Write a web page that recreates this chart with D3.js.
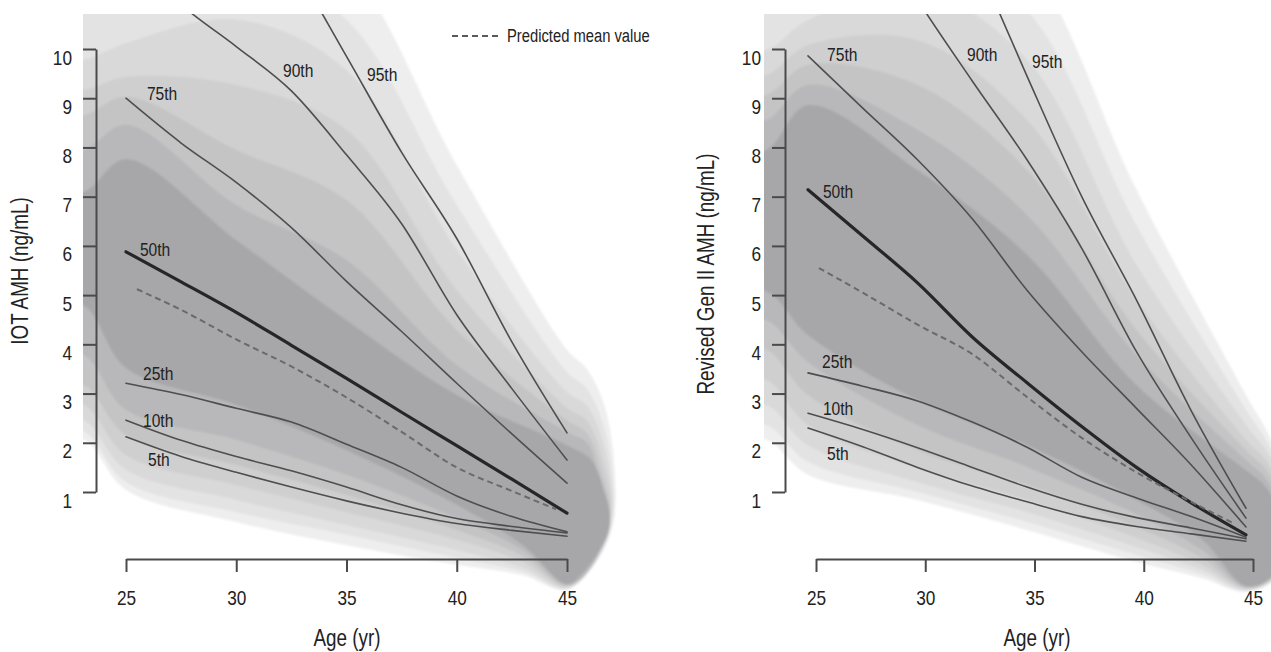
<!DOCTYPE html>
<html><head><meta charset="utf-8">
<script src="https://cdn.jsdelivr.net/npm/d3@7"></script>
<style>
html,body{margin:0;padding:0;background:#fff;}
svg{display:block;}
</style></head><body>
<svg id="chart" width="1271" height="652"></svg>
<script>
// ---------- data ----------
const ages = [25, 27.5, 30, 32.5, 35, 37.5, 40, 42.5, 45];
const meanAges = [25.5, 27.5, 30, 32.5, 35, 37.5, 40, 42.5, 44.5];
const xTicks = [25, 30, 35, 40, 45];
const yTicks = [1, 2, 3, 4, 5, 6, 7, 8, 9, 10];
const percentileNames = ["95th", "90th", "75th", "50th", "25th", "10th", "5th"];

// IOT AMH percentiles (ng/mL)
const iotP95 = [16.5, 15.0, 13.6, 11.8, 9.85, 7.9, 6.15, 4.05, 2.2];
const iotP90 = [12.0, 10.9, 10.05, 9.15, 7.85, 6.45, 4.6, 3.1, 1.65];
const iotP75 = [9.0, 8.09, 7.29, 6.37, 5.28, 4.26, 3.21, 2.18, 1.18];
const iotP50 = [5.88, 5.27, 4.65, 3.98, 3.31, 2.62, 1.94, 1.26, 0.57];
const iotP25 = [3.21, 2.98, 2.7, 2.42, 1.97, 1.5, 0.92, 0.5, 0.19];
const iotP10 = [2.46, 2.05, 1.72, 1.43, 1.1, 0.74, 0.46, 0.3, 0.17];
const iotP5  = [2.12, 1.72, 1.4, 1.1, 0.82, 0.57, 0.36, 0.22, 0.10];
const iotMean = [5.12, 4.7, 4.1, 3.55, 2.92, 2.22, 1.5, 1.02, 0.65];
const iotLabelAge = [35.93, 32.12, 25.95, 25.63, 25.77, 25.77, 26.0];
const iotLabelVal = [9.35, 9.43, 8.96, 5.79, 3.28, 2.32, 1.53];

// Revised Gen II AMH percentiles (ng/mL)
const genP95 = [20.0, 17.0, 14.5, 12.0, 9.45, 7.0, 4.9, 2.65, 0.67];
const genP90 = [14.8, 12.8, 11.0, 9.35, 7.75, 5.95, 3.85, 2.1, 0.47];
const genP75 = [9.86, 8.8, 7.75, 6.55, 5.1, 3.85, 2.7, 1.55, 0.29];
const genP50 = [7.14, 6.2, 5.25, 4.15, 3.22, 2.33, 1.5, 0.78, 0.13];
const genP25 = [3.42, 3.15, 2.85, 2.42, 1.91, 1.3, 0.88, 0.5, 0.08];
const genP10 = [2.6, 2.27, 1.9, 1.5, 1.1, 0.75, 0.48, 0.27, 0.05];
const genP5  = [2.3, 1.92, 1.5, 1.12, 0.8, 0.5, 0.3, 0.15, 0.0];
const genMean = [5.55, 5.05, 4.4, 3.8, 2.93, 2.1, 1.4, 0.8, 0.35];
const genLabelAge = [35.23, 32.26, 25.87, 25.68, 25.64, 25.68, 25.87];
const genLabelVal = [9.61, 9.75, 9.75, 6.97, 3.52, 2.56, 1.65];

// shaded density bands (outer -> inner)
const bandTopAges = [23.1, 25, 30, 35, 40, 45];
const bandBottomAges = [23.1, 25, 30, 35, 40, 43, 45];
const bandShades = ["#eeeeee", "#e3e3e3", "#d9d9da", "#cfcfd0", "#c4c4c5", "#b8b8ba", "#a7a7a9"];

const iotBandTop = [
  [13.4, 13.4, 13.0, 11.7, 7.64, 3.89],
  [11.0, 11.6, 11.8, 10.6, 6.83, 3.44],
  [9.78, 10.12, 10.6, 9.57, 5.92, 3.03],
  [9.17, 9.43, 9.27, 8.36, 5.10, 2.71],
  [8.66, 9.03, 7.95, 6.93, 4.29, 2.46],
  [7.95, 8.46, 6.83, 5.71, 3.58, 2.22],
  [7.10, 7.76, 6.12, 4.49, 2.97, 1.95]
];
const iotBandBottom = [
  [2.06, 1.04, 0.39, -0.08, -0.48, -0.69, -0.99],
  [2.22, 1.20, 0.59, 0.13, -0.34, -0.62, -0.97],
  [2.46, 1.45, 0.84, 0.33, -0.18, -0.54, -0.95],
  [2.77, 1.75, 1.14, 0.59, 0.03, -0.42, -0.93],
  [3.17, 2.16, 1.55, 0.94, 0.23, -0.30, -0.91],
  [3.78, 2.67, 2.06, 1.35, 0.47, -0.18, -0.89],
  [4.78, 3.52, 2.77, 1.85, 0.74, -0.08, -0.87]
];
const iotBandCap = [
  [[45.9, 3.5], [46.8, 2.6], [47.15, 0.5], [46.5, -0.3]],
  [[45.9, 3.1], [46.75, 2.2], [47.1, 0.5], [46.45, -0.3]],
  [[45.9, 2.75], [46.7, 1.9], [47.05, 0.55], [46.4, -0.35]],
  [[45.9, 2.45], [46.65, 1.6], [47.0, 0.6], [46.3, -0.4]],
  [[45.9, 2.2], [46.6, 1.35], [46.95, 0.6], [46.2, -0.45]],
  [[45.9, 2.0], [46.5, 1.2], [46.9, 0.6], [46.1, -0.5]],
  [[46.1, 1.65], [46.7, 1.0], [46.95, 0.5], [46.8, 0.08], [45.7, -0.65]]
];

const genBandTop = [
  [14.04, 14.04, 13.43, 11.81, 7.14, 2.97],
  [10.79, 11.40, 12.22, 10.79, 6.42, 2.67],
  [9.98, 10.59, 11.2, 9.78, 5.61, 2.36],
  [9.47, 10.08, 10.18, 8.56, 4.90, 2.06],
  [9.07, 9.68, 9.27, 7.54, 4.29, 1.85],
  [8.56, 9.27, 8.36, 6.63, 3.78, 1.65],
  [7.95, 8.86, 7.54, 5.82, 3.17, 1.44]
];
const genBandBottom = [
  [2.06, 1.35, 0.84, 0.23, -0.42, -0.75, -1.03],
  [2.36, 1.61, 1.0, 0.39, -0.28, -0.67, -1.01],
  [2.77, 1.95, 1.2, 0.59, -0.12, -0.58, -0.99],
  [3.28, 2.36, 1.49, 0.84, 0.07, -0.48, -0.97],
  [3.89, 2.97, 1.85, 1.14, 0.29, -0.34, -0.95],
  [4.49, 3.64, 2.36, 1.51, 0.55, -0.18, -0.93],
  [5.08, 4.19, 2.87, 1.95, 0.84, 0.03, -0.91]
];
const genBandCap = [
  [[46.2, 2.0], [47.0, 0.5], [46.5, -0.7]],
  [[46.15, 1.85], [46.95, 0.45], [46.45, -0.7]],
  [[46.1, 1.7], [46.9, 0.4], [46.4, -0.7]],
  [[46.05, 1.55], [46.85, 0.35], [46.35, -0.7]],
  [[46.0, 1.4], [46.8, 0.3], [46.3, -0.7]],
  [[45.95, 1.25], [46.75, 0.3], [46.25, -0.7]],
  [[45.9, 1.1], [46.7, 0.3], [46.2, -0.7]]
];

// ---------- drawing ----------
const FONT = '"Liberation Sans", Arial, Helvetica, sans-serif';
const NARROW = 0.82;   // condensed face
const svg = d3.select("#chart");
const defs = svg.append("defs");
defs.append("filter").attr("id", "soft")
  .attr("x", "-5%").attr("y", "-5%").attr("width", "110%").attr("height", "110%")
  .append("feGaussianBlur").attr("stdDeviation", 1.3);

const yScale = d3.scaleLinear().domain([1, 10]).range([492, 49]);
const xAxisY = 559;

const panels = [
  {
    key: "iot", axisRange: [126, 567], markRange: [126, 567], yAxisX: 96,
    clip: [83, 14, 560, 640], ylabel: "IOT AMH (ng/mL)", ylabelPos: [20, 271], xlabelX: 347,
    series: [iotP95, iotP90, iotP75, iotP50, iotP25, iotP10, iotP5], mean: iotMean,
    labelAge: iotLabelAge, labelVal: iotLabelVal,
    bandTop: iotBandTop, bandBottom: iotBandBottom, bandCap: iotBandCap, legend: true
  },
  {
    key: "gen", axisRange: [816, 1253], markRange: [808, 1246], yAxisX: 785,
    clip: [764, 14, 520, 640], ylabel: "Revised Gen II AMH (ng/mL)", ylabelPos: [706, 274], xlabelX: 1037,
    series: [genP95, genP90, genP75, genP50, genP25, genP10, genP5], mean: genMean,
    labelAge: genLabelAge, labelVal: genLabelVal,
    bandTop: genBandTop, bandBottom: genBandBottom, bandCap: genBandCap, legend: false
  }
];

panels.forEach(p => {
  const xAxisScale = d3.scaleLinear().domain([25, 45]).range(p.axisRange);
  const xm = d3.scaleLinear().domain([25, 45]).range(p.markRange);
  const g = svg.append("g");

  defs.append("clipPath").attr("id", "clip-" + p.key)
    .append("rect").attr("x", p.clip[0]).attr("y", p.clip[1])
    .attr("width", p.clip[2]).attr("height", p.clip[3]);

  // bands
  const bandLine = d3.line().x(d => xm(d[0])).y(d => yScale(d[1]))
    .curve(d3.curveCatmullRomClosed.alpha(0.5));
  const bandG = g.append("g").attr("clip-path", `url(#clip-${p.key})`)
    .append("g").attr("filter", "url(#soft)");
  p.bandTop.forEach((top, i) => {
    const bot = p.bandBottom[i];
    const pts = [[21, top[0]]]
      .concat(bandTopAges.map((a, j) => [a, top[j]]))
      .concat(p.bandCap[i])
      .concat(bandBottomAges.map((a, j) => [a, bot[j]]).reverse())
      .concat([[21, bot[0]]]);
    bandG.append("path").attr("d", bandLine(pts)).attr("fill", bandShades[i]);
  });

  // percentile lines
  const line = d3.line().x(d => xm(d[0])).y(d => yScale(d[1])).curve(d3.curveMonotoneX);
  const lineG = g.append("g").attr("clip-path", `url(#clip-${p.key})`);
  p.series.forEach((vals, i) => {
    const is50 = percentileNames[i] === "50th";
    lineG.append("path")
      .attr("d", line(ages.map((a, j) => [a, vals[j]])))
      .attr("fill", "none")
      .attr("stroke", is50 ? "#262626" : "#4e4e4e")
      .attr("stroke-width", is50 ? 3.2 : 1.6)
      .attr("stroke-linejoin", "round").attr("stroke-linecap", "round");
  });
  lineG.append("path")
    .attr("d", line(meanAges.map((a, j) => [a, p.mean[j]])))
    .attr("fill", "none").attr("stroke", "#6a6a6a").attr("stroke-width", 2)
    .attr("stroke-dasharray", "6,4");

  // percentile labels
  percentileNames.forEach((name, i) => {
    g.append("text").attr("x", xm(p.labelAge[i])).attr("y", yScale(p.labelVal[i]))
      .attr("font-family", FONT).attr("font-size", 19).attr("fill", "#222")
      .text(name);
  });

  // axes
  const yAxis = d3.axisLeft(yScale).tickValues(yTicks).tickSize(13).tickSizeOuter(0)
    .tickFormat(d3.format("d"));
  const yG = g.append("g").attr("transform", `translate(${p.yAxisX},0)`).call(yAxis);
  const xAxis = d3.axisBottom(xAxisScale).tickValues(xTicks).tickSize(13).tickSizeOuter(0)
    .tickFormat(d3.format("d"));
  const xG = g.append("g").attr("transform", `translate(0,${xAxisY})`).call(xAxis);
  [yG, xG].forEach(ag => {
    ag.attr("font-family", FONT).attr("font-size", 21);
    ag.select(".domain").attr("stroke", "#4a4a4a").attr("stroke-width", 2);
    ag.selectAll(".tick line").attr("stroke", "#4a4a4a").attr("stroke-width", 2);
    ag.selectAll(".tick text").attr("fill", "#222");
  });
  yG.selectAll(".tick text").attr("x", -24).attr("y", 15).attr("dy", 0);
  xG.selectAll(".tick text").attr("y", 46).attr("dy", 0);

  // titles
  g.append("text").attr("transform", `translate(${p.ylabelPos[0]},${p.ylabelPos[1]}) rotate(-90)`)
    .attr("text-anchor", "middle").attr("dy", "0.35em")
    .attr("font-family", FONT).attr("font-size", 23).attr("fill", "#222").text(p.ylabel);
  g.append("text").attr("x", p.xlabelX).attr("y", 646).attr("text-anchor", "middle")
    .attr("font-family", FONT).attr("font-size", 23).attr("fill", "#222").text("Age (yr)");

  if (p.legend) {
    const lg = g.append("g");
    lg.append("line").attr("x1", 452).attr("x2", 500).attr("y1", 36).attr("y2", 36)
      .attr("stroke", "#5a5a5a").attr("stroke-width", 2).attr("stroke-dasharray", "6,4");
    lg.append("text").attr("x", 507).attr("y", 42)
      .attr("font-family", FONT).attr("font-size", 18).attr("fill", "#222")
      .text("Predicted mean value");
  }
});

// condense all text to mimic a narrow grotesque face
svg.selectAll("text").each(function () {
  const w = this.getComputedTextLength();
  d3.select(this).attr("textLength", w * NARROW).attr("lengthAdjust", "spacingAndGlyphs");
});
</script>
</body></html>
